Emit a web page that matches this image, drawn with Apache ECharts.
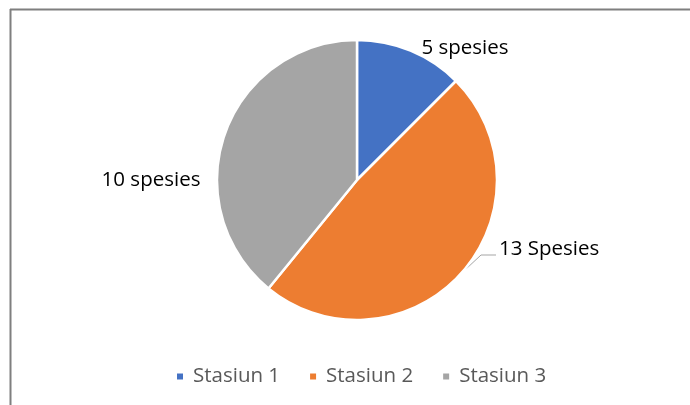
<!DOCTYPE html>
<html><head><meta charset="utf-8">
<script src="https://cdn.jsdelivr.net/npm/echarts@6/dist/echarts.min.js"></script>
<style>html,body{margin:0;padding:0;background:#fff}#c{width:690px;height:405px}</style>
</head><body><div id="c"></div>
<script>
const categories = ['Stasiun 1', 'Stasiun 2', 'Stasiun 3'];
// slice sizes (share of the circle, %)
const values = [12.5, 48.4, 39.1];
const labelTexts = ['5 spesies', '13 Spesies', '10 spesies'];
const colors = ['#4472C4', '#ED7D31', '#A5A5A5'];

const chart = echarts.init(document.getElementById('c'), null, {renderer: 'canvas'});
const labelPos = [
  {x: 465, y: 48, align: 'center'},
  {x: 499, y: 249, align: 'left', line: [[466, 269], [481, 255], [496, 255]]},
  {x: 151, y: 180, align: 'center'}
];
const FONT = 'Open Sans';
chart.setOption({
  animation: false,
  color: colors,
  graphic: [
    {type: 'line', shape: {x1: 10, y1: 9.5, x2: 690, y2: 9.5}, style: {stroke: '#7f7f7f', lineWidth: 2}},
    {type: 'line', shape: {x1: 10.5, y1: 9, x2: 10.5, y2: 405}, style: {stroke: '#7f7f7f', lineWidth: 2}}
  ],
  legend: {
    data: categories,
    left: 170, top: 361,
    icon: 'rect', itemWidth: 8, itemHeight: 8, itemGap: 28,
    textStyle: {color: '#595959', fontSize: 20.5, fontFamily: FONT, padding: [0, 0, 0, 4]}
  },
  series: [{
    type: 'pie',
    center: [357, 180],
    radius: 140,
    startAngle: 90,
    clockwise: true,
    itemStyle: {borderColor: '#fff', borderWidth: 2.5},
    data: categories.map((c, i) => ({
      name: c, value: values[i],
      label: {formatter: labelTexts[i]},
      labelLine: {show: i === 1, lineStyle: {color: '#A5A5A5', width: 1}}
    })),
    label: {show: true, position: 'outside', color: '#000', fontSize: 20.5, fontFamily: FONT},
    labelLine: {show: false, length: 10, length2: 10},
    labelLayout: function (p) {
      const lp = labelPos[p.dataIndex];
      const r = {x: lp.x, y: lp.y, align: lp.align, verticalAlign: 'middle'};
      if (lp.line) r.labelLinePoints = lp.line;
      return r;
    }
  }]
});
</script></body></html>
